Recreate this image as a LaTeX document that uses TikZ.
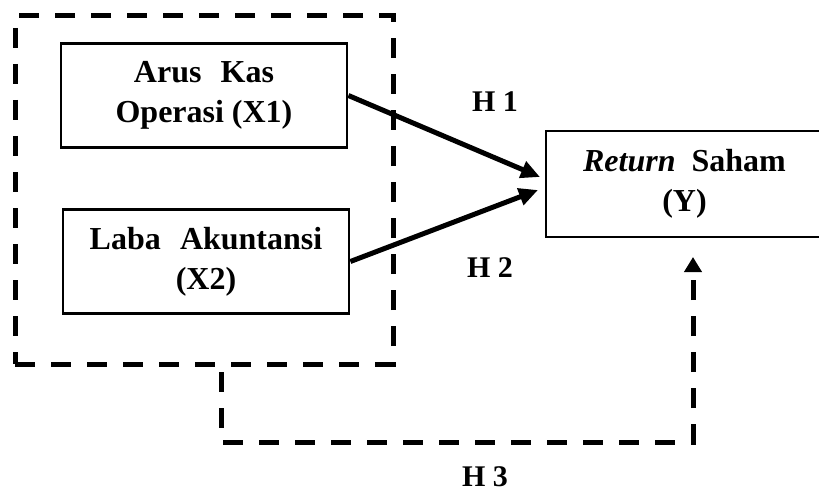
\documentclass[tikz,border=0pt]{standalone}
\usepackage{fontspec}
\setmainfont{Liberation Serif}
\usetikzlibrary{arrows.meta}
\begin{document}
\begin{tikzpicture}[x=1pt,y=-1pt,
  every node/.style={font=\fontsize{32}{40}\selectfont\bfseries, align=center, inner sep=0pt},
  varbox/.style={draw, line width=2.8pt, minimum width=286pt, minimum height=104pt},
  link/.style={line width=5pt, -{Triangle[length=19pt,width=17pt]}},
  dashline/.style={line width=5pt, dash pattern=on 20pt off 16pt},
  hlabel/.style={anchor=base, font=\fontsize{30}{36}\selectfont\bfseries}]
\useasboundingbox (0,0) rectangle (819,492);
\clip (0,0) rectangle (819,492);

% dashed frame grouping the two independent variables
\node[draw, dashline, minimum width=378pt, minimum height=348pt] (grp) at (204,190) {};

% variables
\node[varbox] (ak) at (204,95.5) {Arus\hspace{0.6em}Kas\\Operasi (X1)};
\node[varbox] (la) at (206,261.5) {Laba\hspace{0.6em}Akuntansi\\(X2)};
\node[draw, line width=2.8pt, minimum width=277pt, minimum height=106pt] (rs) at (684.5,184)
  {\textit{Return}\hspace{0.5em}Saham\\(Y)};

% partial effects
\coordinate (t1) at (540,177);
\coordinate (t2) at (538,190);
\draw[link] (ak.east) -- (t1);
\draw[link] (la.east) -- (t2);

% simultaneous effect
\coordinate (s3) at (221,372);
\coordinate (c1) at (221,442);
\coordinate (c2) at (693,442);
\coordinate (t3) at (693,257);
\draw[dashline, -{Triangle[length=15pt,width=17pt]}] (s3) -- (c1) -- (c2) -- (t3);

% hypothesis labels
\node[hlabel] (h1) at (495,112) {H 1};
\node[hlabel] (h2) at (490,277) {H 2};
\node[hlabel] (h3) at (485,486) {H 3};
\end{tikzpicture}
\end{document}
